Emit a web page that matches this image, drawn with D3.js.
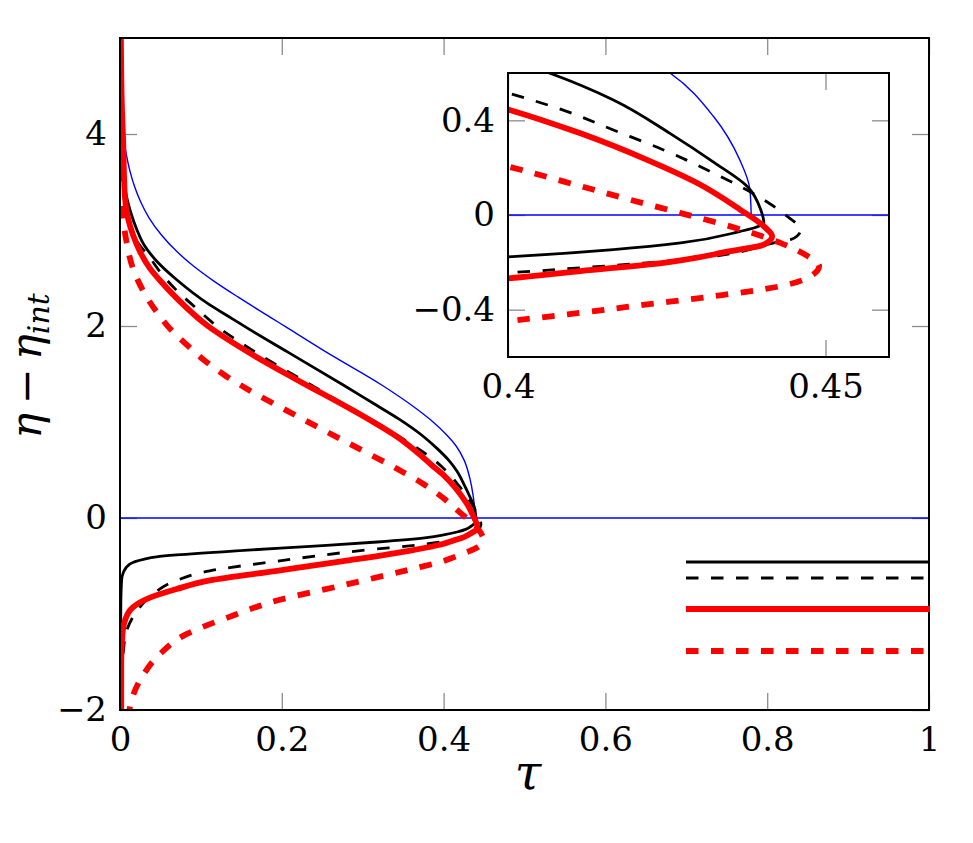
<!DOCTYPE html>
<html>
<head>
<meta charset="utf-8">
<script src="https://cdn.jsdelivr.net/npm/d3@7"></script>
<style>
  body { margin: 0; background: #fff; }
  text { font-family: "DejaVu Serif", serif; }
</style>
</head>
<body>
<svg id="chart" width="973" height="843"></svg>
<script>
// tick values
const xTicks = [0, 0.2, 0.4, 0.6, 0.8, 1];
const yTicks = [-2, 0, 2, 4];
const insetXTicks = [0.4, 0.45];
const insetYTicks = [-0.4, 0, 0.4];

// [tau, eta - eta_int], top branch first
const blueCurve = [[0.000,4.30],[0.003,4.05],[0.0075,3.80],[0.0127,3.60],[0.0181,3.45],[0.0252,3.30],[0.0357,3.13],[0.051,2.95],[0.0697,2.78],[0.090,2.63],[0.1156,2.47],[0.1462,2.30],[0.188,2.08],[0.207,1.98],[0.2545,1.73],[0.3245,1.38],[0.366,1.14],[0.387,1.0],[0.4045,0.86],[0.4155,0.75],[0.4255,0.6],[0.4324,0.415],[0.4365,0.233],[0.4381,0.107],[0.4383,0.0]];
const blueLevel = [[0,0],[1,0]];
const blackSolid = [[0.000,5.2],[0.0005,4.4],[0.0015,3.9],[0.004,3.55],[0.008,3.35],[0.013,3.19],[0.021,3.0],[0.030,2.84],[0.046,2.67],[0.069,2.49],[0.111,2.22],[0.138,2.08],[0.159,1.97],[0.207,1.73],[0.277,1.38],[0.312,1.20],[0.345,1.03],[0.372,0.87],[0.3925,0.72],[0.4065,0.6],[0.4166,0.486],[0.4255,0.345],[0.4326,0.219],[0.4377,0.120],[0.4398,0.022],[0.4403,-0.034],[0.4387,-0.055],[0.4366,-0.069],[0.4272,-0.118],[0.4166,-0.146],[0.400,-0.177],[0.379,-0.205],[0.318,-0.25],[0.235,-0.295],[0.153,-0.337],[0.070,-0.385],[0.045,-0.405],[0.029,-0.43],[0.012,-0.48],[0.004,-0.57],[0.002,-0.65],[0.001,-0.9],[0.000,-2.2]];
const blackDashed = [[0.000,5.2],[0.0005,4.0],[0.002,3.6],[0.006,3.3],[0.012,3.07],[0.021,2.88],[0.037,2.71],[0.049,2.57],[0.070,2.37],[0.095,2.18],[0.115,2.03],[0.165,1.74],[0.223,1.45],[0.272,1.21],[0.316,1.0],[0.345,0.85],[0.374,0.69],[0.389,0.6],[0.400,0.516],[0.4087,0.443],[0.4166,0.359],[0.4245,0.275],[0.4324,0.177],[0.4403,0.064],[0.4440,-0.006],[0.4461,-0.062],[0.4455,-0.09],[0.4445,-0.104],[0.4419,-0.118],[0.4324,-0.174],[0.4219,-0.202],[0.4114,-0.223],[0.400,-0.244],[0.379,-0.27],[0.297,-0.34],[0.194,-0.45],[0.111,-0.55],[0.070,-0.65],[0.041,-0.79],[0.021,-0.97],[0.008,-1.18],[0.004,-1.4],[0.001,-1.7],[0.000,-2.2]];
const redSolid = [[0.001,5.2],[0.002,4.4],[0.004,3.9],[0.006,3.35],[0.010,3.12],[0.016,2.95],[0.025,2.77],[0.037,2.60],[0.052,2.45],[0.070,2.29],[0.107,2.01],[0.166,1.69],[0.223,1.42],[0.284,1.14],[0.313,1.0],[0.340,0.86],[0.365,0.70],[0.3855,0.55],[0.400,0.446],[0.4114,0.345],[0.4219,0.233],[0.4298,0.135],[0.4366,0.022],[0.4403,-0.048],[0.4416,-0.090],[0.4403,-0.125],[0.4350,-0.153],[0.4245,-0.202],[0.4114,-0.237],[0.400,-0.268],[0.359,-0.34],[0.276,-0.45],[0.194,-0.55],[0.111,-0.65],[0.070,-0.74],[0.037,-0.83],[0.016,-0.93],[0.006,-1.07],[0.003,-1.21],[0.0015,-1.5],[0.0015,-2.2]];
const redDashed = [[0.002,3.25],[0.004,3.10],[0.008,2.88],[0.016,2.60],[0.029,2.36],[0.045,2.15],[0.062,1.97],[0.083,1.80],[0.106,1.63],[0.129,1.49],[0.156,1.35],[0.217,1.07],[0.280,0.79],[0.343,0.51],[0.374,0.36],[0.400,0.205],[0.4087,0.142],[0.4193,0.064],[0.4272,0.008],[0.4350,-0.048],[0.4429,-0.118],[0.4472,-0.174],[0.4490,-0.216],[0.4477,-0.258],[0.4429,-0.301],[0.4324,-0.343],[0.4219,-0.378],[0.4114,-0.413],[0.400,-0.448],[0.359,-0.535],[0.276,-0.70],[0.194,-0.86],[0.132,-1.04],[0.082,-1.21],[0.049,-1.42],[0.029,-1.63],[0.016,-1.85],[0.010,-2.1]];

var series = [
  {name: "blue", data: blueCurve, color: "#0000ff", width: 1.4, dash: null},
  {name: "level", data: blueLevel, color: "#0000ff", width: 1.4, dash: null},
  {name: "black", data: blackSolid, color: "#000", width: 2.8, dash: null},
  {name: "blackDash", data: blackDashed, color: "#000", width: 2.8, dash: "12.5,12.5"},
  {name: "red", data: redSolid, color: "#ff0000", width: 5.8, dash: null},
  {name: "redDash", data: redDashed, color: "#ff0000", width: 5.8, dash: "12.5,12.5"}
];
var legendKeys = ["black", "blackDash", "red", "redDash"];

var svg = d3.select("#chart");
var fmt = function(d) { return String(d).replace("-", "\u2212"); };

var main = {left: 120, right: 929, top: 38, bottom: 710};
var inset = {left: 508, right: 889, top: 73, bottom: 357};

function drawPanel(box, xDom, yDom, xt, yt, withLegend, id) {
  var x = d3.scaleLinear().domain(xDom).range([box.left, box.right]);
  var y = d3.scaleLinear().domain(yDom).range([box.bottom, box.top]);
  var w = box.right - box.left, h = box.bottom - box.top;
  var g = svg.append("g");

  g.append("rect").attr("x", box.left).attr("y", box.top)
    .attr("width", w).attr("height", h).attr("fill", "#fff");

  // ticks on all four sides, pointing inward
  var tickSize = -17;
  var ax = [
    [d3.axisBottom(x).tickValues(xt).tickFormat(fmt), box.bottom, "x"],
    [d3.axisTop(x).tickValues(xt).tickFormat(""), box.top, "x"],
    [d3.axisLeft(y).tickValues(yt).tickFormat(fmt), box.left, "y"],
    [d3.axisRight(y).tickValues(yt).tickFormat(""), box.right, "y"]
  ];
  ax.forEach(function(a) {
    var axg = g.append("g")
      .attr("transform", a[2] == "x" ? `translate(0,${a[1]})` : `translate(${a[1]},0)`)
      .call(a[0].tickSize(tickSize).tickPadding(a[2] == "x" ? 17 : 13))
      .attr("font-family", "DejaVu Serif").attr("font-size", 34);
    axg.select(".domain").remove();
    axg.selectAll(".tick line").attr("stroke", "#8c8c8c").attr("stroke-width", 1.3);
    axg.selectAll(".tick text").attr("fill", "#000");
  });

  g.append("clipPath").attr("id", id).append("rect")
    .attr("x", box.left - 1).attr("y", box.top).attr("width", w + 1).attr("height", h);

  var line = d3.line().x(function(d) { return x(d[0]); }).y(function(d) { return y(d[1]); })
    .curve(d3.curveMonotoneY);
  var flat = d3.line().x(function(d) { return x(d[0]); }).y(function(d) { return y(d[1]); });

  var plots = g.append("g").attr("clip-path", `url(#${id})`);
  plots.selectAll("path")
    .data(series)
    .join("path")
    .attr("d", function(d) { return d.name == "level" ? flat(d.data) : line(d.data); })
    .attr("fill", "none")
    .attr("stroke", function(d) { return d.color; })
    .attr("stroke-width", function(d) { return d.width; })
    .attr("stroke-dasharray", function(d) { return d.dash; });

  g.append("rect").attr("x", box.left).attr("y", box.top)
    .attr("width", w).attr("height", h)
    .attr("fill", "none").attr("stroke", "#000").attr("stroke-width", 2);

  if (withLegend) {
    var rowsY = [562, 578, 609, 651];
    var leg = g.append("g");
    legendKeys.forEach(function(k, i) {
      var s = series.find(function(d) { return d.name == k; });
      leg.append("line")
        .attr("x1", 686).attr("x2", box.right + 1)
        .attr("y1", rowsY[i]).attr("y2", rowsY[i])
        .attr("stroke", s.color).attr("stroke-width", s.width)
        .attr("stroke-dasharray", s.dash);
    });
  }
  return g;
}

drawPanel(main, [0, 1], [-2, 5], xTicks, yTicks, true, "clipMain");
drawPanel(inset, [0.4, 0.46], [-0.6, 0.6], insetXTicks, insetYTicks, false, "clipInset");

// axis labels
svg.append("text")
  .attr("x", 528).attr("y", 789)
  .attr("text-anchor", "middle")
  .style("font-size", "48px").style("font-style", "italic")
  .text("\u03c4");

var yl = svg.append("text")
  .attr("transform", "translate(41,366) rotate(-90)")
  .attr("text-anchor", "middle")
  .style("font-size", "43px");
yl.append("tspan").style("font-style", "italic").text("\u03b7");
yl.append("tspan").text("\u2009\u2212\u2009");
yl.append("tspan").style("font-style", "italic").text("\u03b7");
yl.append("tspan").style("font-style", "italic").style("font-size", "30px").attr("dy", 8).text("int");
</script>
</body>
</html>
